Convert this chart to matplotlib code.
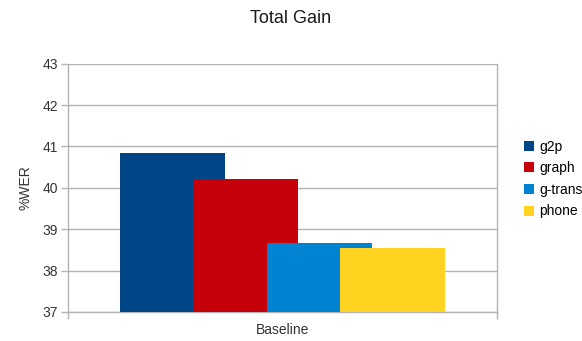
import matplotlib
matplotlib.use("Agg")
import matplotlib.pyplot as plt
from matplotlib.patches import Patch

plt.rcParams['font.family'] = ['Liberation Sans', 'DejaVu Sans']

categories = ["Baseline"]
series = ["g2p", "graph", "g-trans", "phone"]
values = [40.84, 40.21, 38.67, 38.55]
colors = ["#004586", "#c5000b", "#0084d1", "#ffd320"]
yticks = [37, 38, 39, 40, 41, 42, 43]

fig = plt.figure(figsize=(5.82, 3.41), dpi=100)
ax = fig.add_axes([68 / 582, 29 / 341, 429 / 582, 248.3 / 341])

bar_w = 0.245
step = 0.171
n = len(series)
for i, (name, v, c) in enumerate(zip(series, values, colors)):
    x = (i - (n - 1) / 2) * step
    ax.bar(x, v - yticks[0], bottom=yticks[0], width=bar_w, color=c,
           label=name, zorder=3 + i, linewidth=0)

ax.set_xlim(-0.5, 0.5)
ax.set_ylim(yticks[0], yticks[-1])
ax.set_yticks(yticks)
ax.set_yticklabels([str(t) for t in yticks], fontsize=10, color="#333333")
ax.yaxis.grid(True, color="#b3b3b3", linewidth=1)
ax.set_axisbelow(True)

# category separators on the x axis
ax.set_xticks([-0.5, 0.5])
ax.set_xticklabels(["", ""])
ax.tick_params(axis="x", length=5, color="#b3b3b3", width=1)
ax.tick_params(axis="y", length=5, color="#b3b3b3", width=1, pad=2)
ax.text(0, -0.045, categories[0], transform=ax.get_xaxis_transform(),
        ha="center", va="top", fontsize=10, color="#333333")

for side in ["left", "bottom", "right"]:
    ax.spines[side].set_color("#b3b3b3")
    ax.spines[side].set_linewidth(1)
ax.spines["top"].set_visible(False)

ax.set_ylabel("%WER", fontsize=10, color="#333333", labelpad=7)
fig.suptitle("Total Gain", x=0.5, y=0.97, fontsize=13, color="#1a1a1a")

handles = [Patch(facecolor=c, edgecolor="none", label=s) for s, c in zip(series, colors)]
fig.legend(handles=handles, loc="upper left", bbox_to_anchor=(518 / 582, 1 - 134 / 341),
           frameon=False, fontsize=10, handlelength=0.75, handleheight=0.75,
           handletextpad=0.4, labelspacing=0.55, borderaxespad=0)

fig.savefig("out.png", dpi=100)
